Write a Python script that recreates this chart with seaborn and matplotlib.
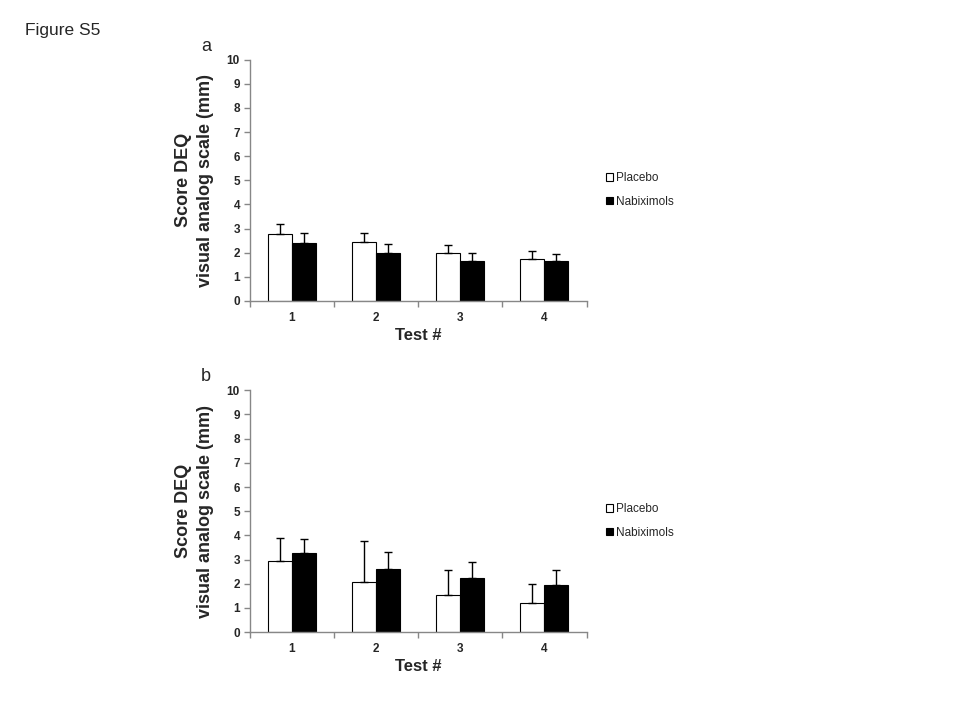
import numpy as np
import pandas as pd
import matplotlib
matplotlib.use("Agg")
import matplotlib.pyplot as plt
from matplotlib.patches import Patch
import seaborn as sns

# values
tests = ["1", "2", "3", "4"]
groups = ["Placebo", "Nabiximols"]

a_placebo = [2.77, 2.44, 1.98, 1.73]
a_placebo_err = [0.41, 0.37, 0.33, 0.33]
a_nabix = [2.39, 1.98, 1.65, 1.65]
a_nabix_err = [0.42, 0.37, 0.33, 0.29]

b_placebo = [2.96, 2.09, 1.52, 1.19]
b_placebo_err = [0.95, 1.66, 1.03, 0.82]
b_nabix = [3.26, 2.60, 2.23, 1.94]
b_nabix_err = [0.60, 0.73, 0.65, 0.61]

sns.set_style("white")
plt.rcParams['font.family'] = ['Liberation Sans', 'DejaVu Sans']

GRAY = "#878787"


def panel(ax, plac, plac_err, nab, nab_err, letter):
    df = pd.DataFrame({
        "test": tests * 2,
        "group": [groups[0]] * 4 + [groups[1]] * 4,
        "score": plac + nab,
    })
    sns.barplot(data=df, x="test", y="score", hue="group", hue_order=groups,
                palette=["white", "black"], edgecolor="black", linewidth=0.8,
                width=0.57, errorbar=None, legend=False, ax=ax)
    errs = [plac_err, nab_err]
    for cont, err in zip(ax.containers, errs):
        xs = [p.get_x() + p.get_width() / 2 for p in cont]
        ys = [p.get_height() for p in cont]
        ax.errorbar(xs, ys, yerr=[np.zeros(4), err], fmt="none",
                    ecolor="black", elinewidth=1, capsize=3, capthick=1)

    ax.set_xlim(-0.5, 3.5)
    ax.set_ylim(0, 10)
    ax.set_yticks(range(11))
    ax.set_xticks(range(4))
    ax.set_xticks(np.arange(-0.5, 4, 1), minor=True)
    ax.tick_params(axis="x", which="major", bottom=False, length=0, pad=8)
    ax.tick_params(axis="x", which="minor", bottom=True, length=4,
                   color=GRAY, width=1, direction="out")
    ax.tick_params(axis="y", left=True, length=4, color=GRAY, width=1,
                   pad=3, direction="out")
    for lab in ax.get_xticklabels() + ax.get_yticklabels():
        lab.set_fontweight("bold")
        lab.set_fontsize(8.5)
    for s in ["top", "right"]:
        ax.spines[s].set_visible(False)
    for s in ["left", "bottom"]:
        ax.spines[s].set_color(GRAY)
        ax.spines[s].set_linewidth(1)

    ax.set_xlabel("Test #", fontsize=12, fontweight="bold", labelpad=3)
    ax.set_ylabel("Score DEQ\nvisual analog scale (mm)", fontsize=13,
                  fontweight="bold", labelpad=9, linespacing=1.4)

    handles = [Patch(facecolor="white", edgecolor="black", linewidth=0.8),
               Patch(facecolor="black", edgecolor="black", linewidth=0.8)]
    ax.legend(handles, groups, loc="center left", bbox_to_anchor=(1.025, 0.46),
              frameon=False, fontsize=8.5, handlelength=0.6, handleheight=0.6,
              handletextpad=0.25, labelspacing=1.0)
    ax.text(-0.13, 1.02, letter, transform=ax.transAxes, fontsize=13,
            ha="center", va="bottom")


fig = plt.figure(figsize=(9.6, 7.2), dpi=100)
ax_a = fig.add_axes([0.260, 0.582, 0.351, 0.335])
ax_b = fig.add_axes([0.260, 0.122, 0.351, 0.336])

panel(ax_a, a_placebo, a_placebo_err, a_nabix, a_nabix_err, "a")
panel(ax_b, b_placebo, b_placebo_err, b_nabix, b_nabix_err, "b")

fig.text(0.026, 0.958, "Figure S5", fontsize=12.5, ha="left", va="center")

fig.savefig("out.png", dpi=100, facecolor="white")
